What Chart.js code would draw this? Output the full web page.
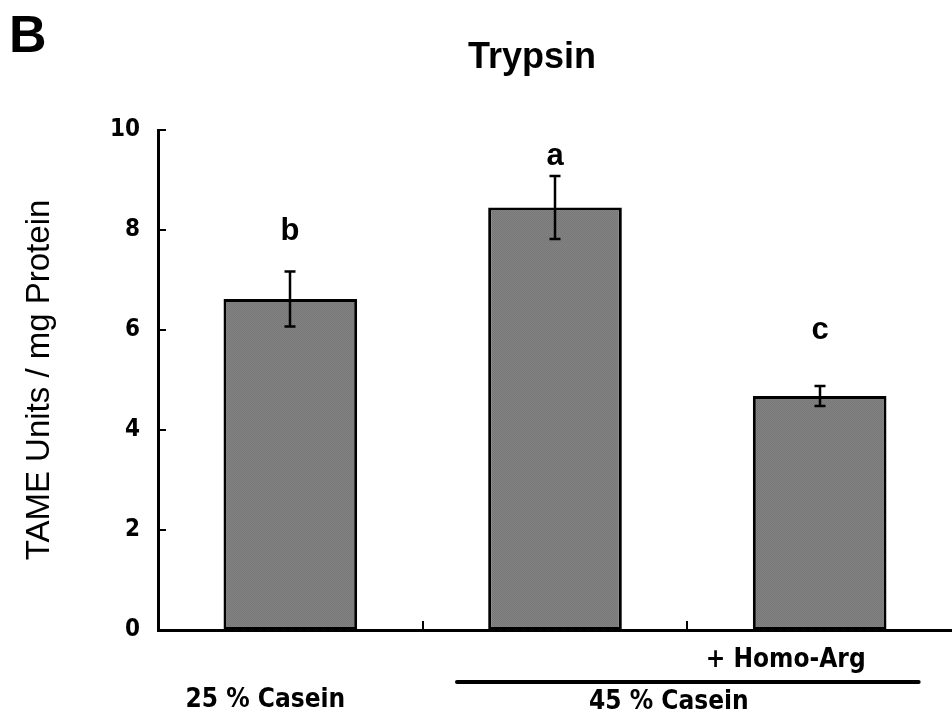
<!DOCTYPE html>
<html>
<head>
<meta charset="utf-8">
<script src="https://cdn.jsdelivr.net/npm/chart.js@4"></script>
<style>
html,body{margin:0;padding:0;background:#fff;}
#wrap{width:952px;height:719px;}
</style>
</head>
<body>
<div id="wrap"><canvas id="c" width="952" height="719"></canvas></div>
<script>
// ---- data ----
const categories = ['25 % Casein', '45 % Casein', '+ Homo-Arg'];
const means = [6.62, 8.45, 4.68];
const errors = [0.55, 0.63, 0.2];
const letters = ['b', 'a', 'c'];
const letterLevels = [7.8, 9.3, 5.82];
const yTickValues = [0, 2, 4, 6, 8, 10];
const chartTitle = 'Trypsin';
const panelLabel = 'B';
const yTitle = 'TAME Units / mg Protein';

const labelFont = "'Liberation Sans Narrow', 'DejaVu Sans Condensed', 'Liberation Sans', sans-serif";
const mainFont = "'Liberation Sans', Arial, sans-serif";

// bar texture
function makePattern() {
  const p = document.createElement('canvas');
  p.width = 2; p.height = 2;
  const g = p.getContext('2d');
  g.fillStyle = '#848484'; g.fillRect(0, 0, 2, 2);
  g.fillStyle = '#767676'; g.fillRect(0, 0, 1, 1); g.fillRect(1, 1, 1, 1);
  return g.createPattern(p, 'repeat');
}

const decorPlugin = {
  id: 'decor',
  afterDatasetsDraw(chart) {
    const ctx = chart.ctx;
    const ys = chart.scales.y, xs = chart.scales.x;
    const area = chart.chartArea;
    const meta = chart.getDatasetMeta(0);
    ctx.save();
    // inward ticks on y axis
    ctx.strokeStyle = '#000'; ctx.lineWidth = 2;
    yTickValues.forEach(v => {
      const py = Math.round(ys.getPixelForValue(v));
      ctx.beginPath(); ctx.moveTo(area.left, py); ctx.lineTo(area.left + 8, py); ctx.stroke();
    });
    // inward ticks on x axis, between categories
    for (let i = 0; i < categories.length - 1; i++) {
      const px = Math.round((xs.getPixelForValue(i) + xs.getPixelForValue(i + 1)) / 2);
      ctx.beginPath(); ctx.moveTo(px, area.bottom); ctx.lineTo(px, area.bottom - 9); ctx.stroke();
    }
    // error bars
    meta.data.forEach((bar, i) => {
      const x = Math.round(bar.x);
      const top = ys.getPixelForValue(means[i] + errors[i]);
      const bot = ys.getPixelForValue(means[i] - errors[i]);
      ctx.lineWidth = 2.5;
      ctx.beginPath();
      ctx.moveTo(x, top); ctx.lineTo(x, bot);
      ctx.moveTo(x - 5.5, top); ctx.lineTo(x + 5.5, top);
      ctx.moveTo(x - 5.5, bot); ctx.lineTo(x + 5.5, bot);
      ctx.stroke();
      // significance letters
      ctx.fillStyle = '#000';
      ctx.font = "bold 31px " + mainFont;
      ctx.textAlign = 'center'; ctx.textBaseline = 'alphabetic';
      ctx.fillText(letters[i], x, ys.getPixelForValue(letterLevels[i]));
    });
    // category labels
    ctx.font = "bold 26px " + labelFont;
    ctx.textAlign = 'center'; ctx.textBaseline = 'middle';
    const p0 = xs.getPixelForValue(0), p1 = xs.getPixelForValue(1), p2 = xs.getPixelForValue(2);
    ctx.fillText(categories[0], p0 - 25, area.bottom + 70);
    ctx.fillText(categories[2], p2 - 34, area.bottom + 30);
    const l0 = p1 - 98, l1 = p2 + 99;
    ctx.lineWidth = 4;
    ctx.lineCap = 'round';
    ctx.beginPath(); ctx.moveTo(l0, area.bottom + 52); ctx.lineTo(l1, area.bottom + 52); ctx.stroke();
    ctx.fillText(categories[1], (l0 + l1) / 2 - 19, area.bottom + 72);
    // title and panel label
    ctx.textBaseline = 'alphabetic';
    ctx.font = "bold 36px " + mainFont;
    ctx.fillText(chartTitle, 532, 68);
    ctx.textAlign = 'left';
    ctx.font = "bold 52px " + mainFont;
    ctx.fillText(panelLabel, 9, 52);
    ctx.restore();
  }
};

new Chart(document.getElementById('c'), {
  type: 'bar',
  data: {
    labels: categories,
    datasets: [{
      data: means,
      backgroundColor: makePattern(),
      borderColor: '#000',
      borderWidth: 3,
      borderSkipped: false,
      barPercentage: 0.505,
      categoryPercentage: 1.0
    }]
  },
  options: {
    responsive: false,
    animation: false,
    devicePixelRatio: 1,
    layout: { padding: { top: 130, left: 0, right: -4, bottom: 0 } },
    plugins: { legend: { display: false }, tooltip: { enabled: false }, title: { display: false } },
    scales: {
      x: {
        grid: { display: false, drawTicks: false },
        border: { display: true, color: '#000', width: 3 },
        ticks: { display: false },
        afterFit(scale) { scale.height = 89; }
      },
      y: {
        min: 0, max: 10,
        grid: { display: false, drawTicks: false },
        border: { display: true, color: '#000', width: 3 },
        ticks: {
          stepSize: 2, padding: 18, color: '#000',
          font: { family: labelFont, weight: 'bold', size: 24 },
          callback: (v) => yTickValues.includes(v) ? String(v) : ''
        },
        title: {
          display: true, text: yTitle, color: '#000',
          font: { family: mainFont, size: 33, weight: 'normal', lineHeight: 1.2 },
          padding: { top: 20, bottom: 0 }
        },
        afterFit(scale) { scale.width = 158; }
      }
    }
  },
  plugins: [decorPlugin]
});
</script>
</body>
</html>
